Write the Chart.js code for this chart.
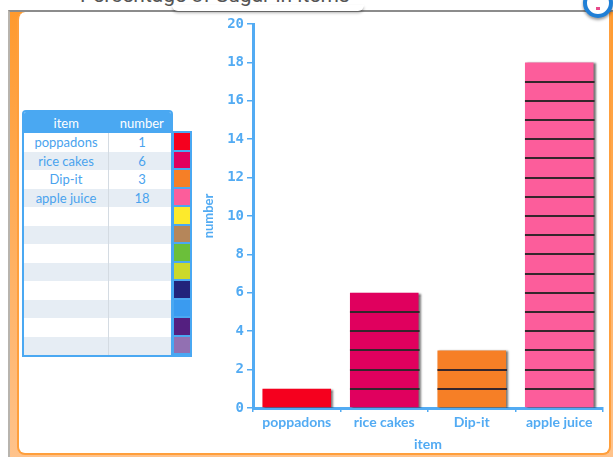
<!DOCTYPE html>
<html>
<head>
<meta charset="utf-8">
<script src="https://cdn.jsdelivr.net/npm/chart.js@4"></script>
<style>
  html, body { margin: 0; padding: 0; background: #fff; }
  body { width: 613px; height: 457px; position: relative; overflow: hidden; font-family: Lato, "Noto Sans", sans-serif; }
  #title { position: absolute; left: 80px; top: -17px; font: 21px Roboto, sans-serif; color: #555; white-space: nowrap; z-index: 5; }
  #pill { position: absolute; left: 172px; top: 5px; width: 192px; height: 6px; border-radius: 0 0 8px 8px; box-shadow: 0 2px 3px rgba(0,0,0,0.3); background: #fff; }
  #frame { position: absolute; left: 8px; top: 10px; width: 610px; height: 460px; border-left: 2px solid #b8b4ae; border-top: 2px solid #8c8c8c;
           background: linear-gradient(#ff9a2e, #ffc48e); }
  #panel { position: absolute; left: 17px; top: 12px; width: 590px; height: 441px; background: #fff; border: 2px solid #ff9f3c; border-top: none;
           border-radius: 8px 0 8px 8px; }
  #knob { position: absolute; left: 583px; top: -12px; width: 22px; height: 22px; border-radius: 50%; border: 4px solid #1f7fd6; background: #fff; box-shadow: 0 2px 3px rgba(0,0,0,0.4); z-index: 6; }
  #knob::after { content: ""; position: absolute; left: 9px; top: 15px; width: 4px; height: 3px; background: #e84a8a; }
  #tbl { position: absolute; left: 22px; top: 110px; width: 151px; }
  #tbl table { border-collapse: collapse; width: 151px; font-size: 13px; color: #4aa3ee; }
  #tbl th { background: #4aa8f2; color: #fff; font-weight: normal; height: 21px; padding: 0; }
  #tbl td { height: 18.5px; padding: 0; text-align: center; line-height: 12px; }
  #tbl .wrap { border: 2px solid #4aa8f2; border-radius: 4px 4px 0 0; overflow: hidden; }
  #tbl td.c1 { border-right: 1px solid #d4dbe2; width: 84px; }
  #sw { position: absolute; left: 172px; top: 131px; width: 16px; border: 2px solid #4aa8f2; background: #4aa8f2; }
  #sw div { width: 16px; height: 16.5px; margin-bottom: 2px; }
  #chartBox { position: absolute; left: 190px; top: 12px; width: 420px; height: 445px; }
</style>
</head>
<body>
<div id="frame"></div>
<div id="panel"></div>
<div id="pill"></div>
<div id="title">Percentage of Sugar in items</div>
<div id="knob"></div>
<div id="tbl"><div class="wrap"><table id="t"></table></div></div>
<div id="sw"></div>
<div id="chartBox"><canvas id="migrafica" width="420" height="445"></canvas></div>
<script>
const items = ["poppadons", "rice cakes", "Dip-it", "apple juice"];
const numbers = [1, 6, 3, 18];
const barColors = ["#f5001e", "#e0005e", "#f67f26", "#fc5d9b"];
const swatchColors = ["#f5001e", "#e0005e", "#f67f26", "#fc5d9b", "#fdea2c", "#b5865a", "#6bbf3a", "#cbd92b", "#22237b", "#3a9bf0", "#541f80", "#9270b2"];
const yTicks = [0, 2, 4, 6, 8, 10, 12, 14, 16, 18, 20];
const blue = "#52abf3";

// table
const t = document.getElementById("t");
let html = "<tr><th>item</th><th>number</th></tr>";
for (let i = 0; i < 12; i++) {
  const bg = i % 2 ? "#e6edf4" : "#fff";
  html += `<tr style="background:${bg}"><td class="c1">${items[i] || ""}</td><td>${numbers[i] ?? ""}</td></tr>`;
}
t.innerHTML = html;
document.getElementById("sw").innerHTML = swatchColors.map(c => `<div style="background:${c}"></div>`).join("");

const shadowPlugin = {
  id: "blocks",
  beforeDatasetDraw(chart) {
    const ctx = chart.ctx;
    ctx.save();
    ctx.shadowColor = "rgba(0,0,0,0.55)";
    ctx.shadowOffsetX = 2;
    ctx.shadowOffsetY = 1;
    ctx.shadowBlur = 2;
  },
  afterDatasetDraw(chart) {
    const ctx = chart.ctx;
    ctx.restore();
    const y = chart.scales.y;
    const meta = chart.getDatasetMeta(0);
    ctx.save();
    ctx.strokeStyle = "#35262c";
    ctx.lineWidth = 2;
    meta.data.forEach((bar, i) => {
      const v = numbers[i];
      for (let k = 1; k < v; k++) {
        const py = Math.round(y.getPixelForValue(k));
        ctx.beginPath();
        ctx.moveTo(bar.x - bar.width / 2, py);
        ctx.lineTo(bar.x + bar.width / 2 + 1, py);
        ctx.stroke();
      }
    });
    ctx.restore();
  }
};

const ctx = document.getElementById("migrafica").getContext("2d");
window.myBar = new Chart(ctx, {
  type: "bar",
  data: {
    labels: items,
    datasets: [{ data: numbers, backgroundColor: barColors, barPercentage: 0.8, categoryPercentage: 0.98 }]
  },
  options: {
    responsive: false,
    animation: false,
    devicePixelRatio: 1,
    layout: { padding: { top: 12, right: 7 } },
    plugins: { legend: { display: false }, tooltip: { enabled: false } },
    scales: {
      x: {
        offset: true,
        grid: { display: true, drawOnChartArea: false, tickLength: 4, color: blue, lineWidth: 1.5, offset: true },
        border: { color: blue, width: 3 },
        ticks: { color: blue, font: { family: "Lato", size: 14, weight: "bold" }, padding: 2 },
        title: { display: true, text: "item", color: blue, font: { family: "Lato", size: 14, weight: "bold" }, padding: { top: 2 } },
        afterFit(s) { s.height = 49; }
      },
      y: {
        min: 0, max: 20,
        afterBuildTicks(s) { s.ticks = yTicks.map(v => ({ value: v })); },
        grid: { display: true, drawOnChartArea: false, tickLength: 6, color: blue, lineWidth: 1.5 },
        border: { color: blue, width: 3 },
        ticks: { color: blue, font: { family: "DejaVu Sans Mono", size: 14, weight: "bold" }, padding: 3 },
        title: { display: true, text: "number", color: blue, font: { family: "Lato", size: 13, weight: "bold" }, padding: { top: 11, bottom: 0 } },
        afterFit(s) { s.width = 63; }
      }
    }
  },
  plugins: [shadowPlugin]
});
</script>
</body>
</html>
